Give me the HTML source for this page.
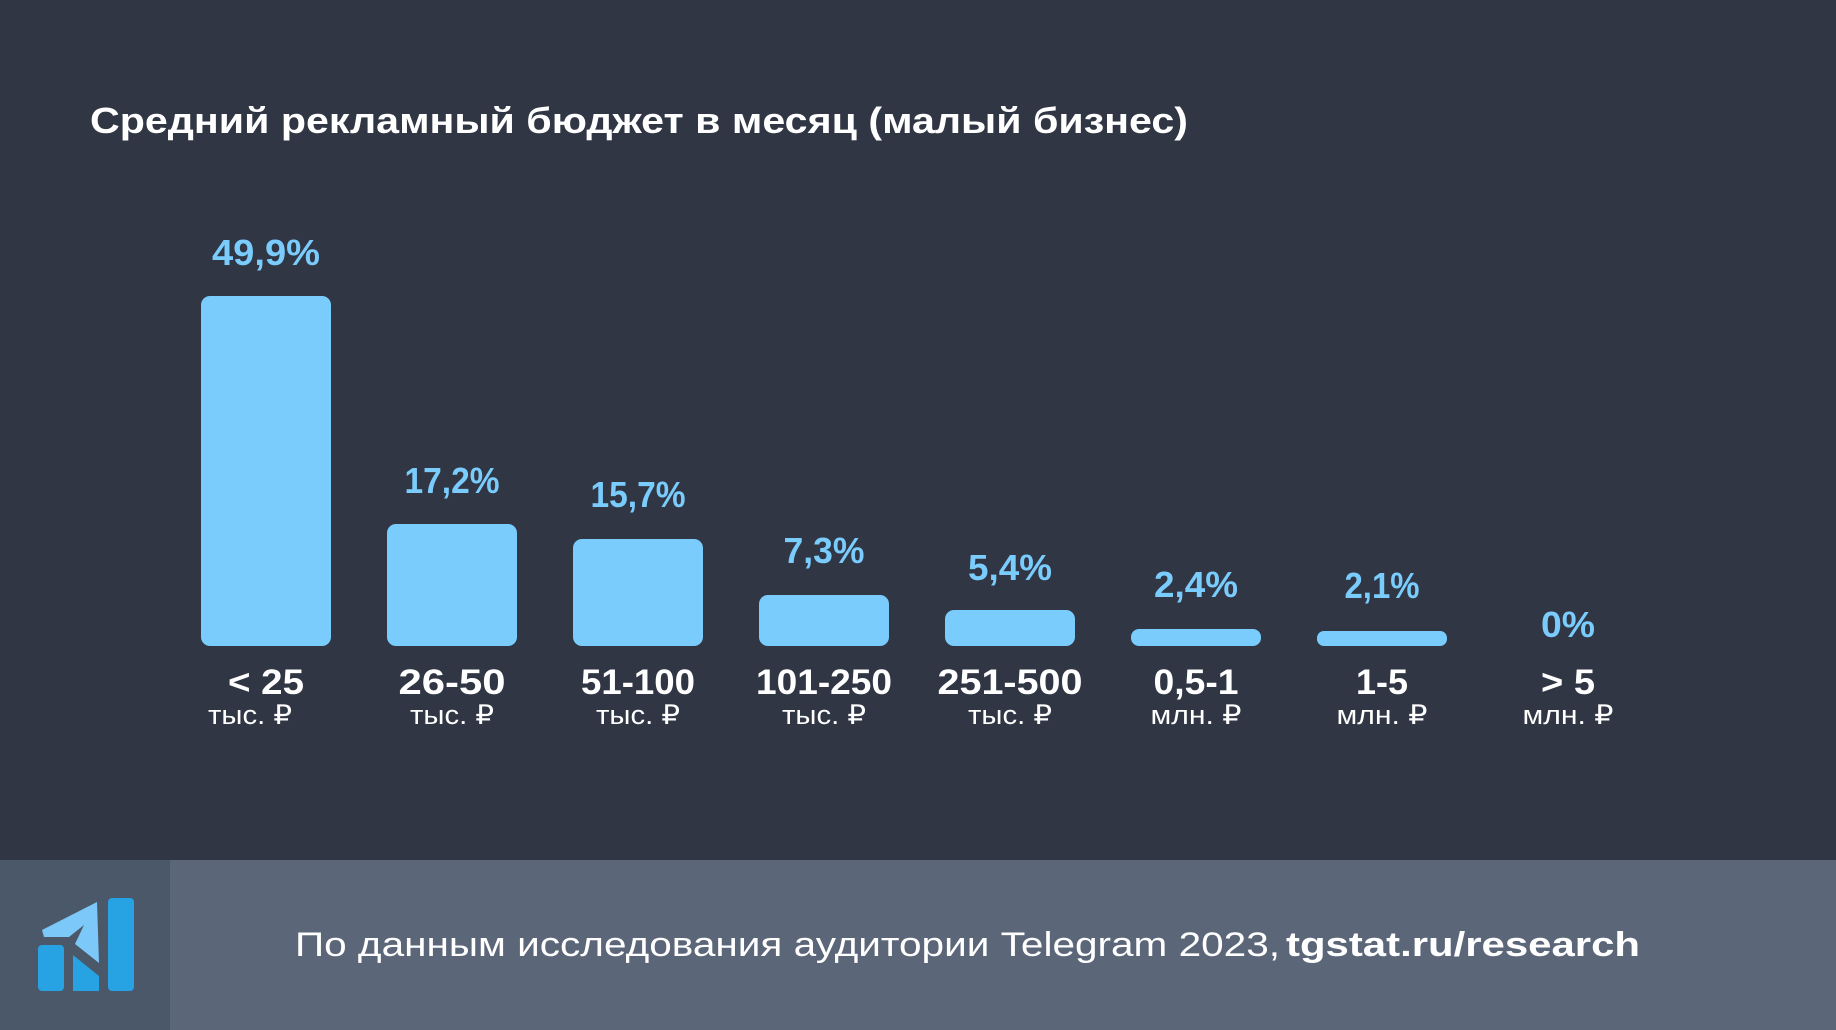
<!DOCTYPE html>
<html><head><meta charset="utf-8"><style>
html,body{margin:0;padding:0;background:#303644;}
svg{display:block}
</style></head><body>
<svg width="1836" height="1030" viewBox="0 0 1836 1030" xmlns="http://www.w3.org/2000/svg" font-family="'Liberation Sans', sans-serif">
<rect width="1836" height="1030" fill="#303644"/>
<text x="90" y="133" font-size="36" font-weight="bold" fill="#ffffff" textLength="1098" lengthAdjust="spacingAndGlyphs">Средний рекламный бюджет в месяц (малый бизнес)</text>
<g fill="#7accfd">
<rect x="201" y="296" width="130" height="350" rx="9"/>
<rect x="387" y="524" width="130" height="122" rx="9"/>
<rect x="573" y="539" width="130" height="107" rx="9"/>
<rect x="759" y="595" width="130" height="51" rx="9"/>
<rect x="945" y="610" width="130" height="36" rx="9"/>
<rect x="1131" y="629" width="130" height="17" rx="8"/>
<rect x="1317" y="631" width="130" height="15" rx="7"/>
</g>
<g fill="#7accfd" font-size="36" font-weight="bold" text-anchor="middle" lengthAdjust="spacingAndGlyphs">
<text x="266" y="265" textLength="108" lengthAdjust="spacingAndGlyphs">49,9%</text>
<text x="452" y="493" textLength="95" lengthAdjust="spacingAndGlyphs">17,2%</text>
<text x="638" y="507" textLength="95" lengthAdjust="spacingAndGlyphs">15,7%</text>
<text x="824" y="563" textLength="81" lengthAdjust="spacingAndGlyphs">7,3%</text>
<text x="1010" y="580" textLength="84" lengthAdjust="spacingAndGlyphs">5,4%</text>
<text x="1196" y="597" textLength="84" lengthAdjust="spacingAndGlyphs">2,4%</text>
<text x="1382" y="598" textLength="75" lengthAdjust="spacingAndGlyphs">2,1%</text>
<text x="1568" y="637" textLength="54" lengthAdjust="spacingAndGlyphs">0%</text>
</g>
<g fill="#ffffff" font-size="35" font-weight="bold" text-anchor="middle">
<text x="266" y="694" textLength="76" lengthAdjust="spacingAndGlyphs">&lt; 25</text>
<text x="452" y="694" textLength="107" lengthAdjust="spacingAndGlyphs">26-50</text>
<text x="638" y="694" textLength="114" lengthAdjust="spacingAndGlyphs">51-100</text>
<text x="824" y="694" textLength="136" lengthAdjust="spacingAndGlyphs">101-250</text>
<text x="1010" y="694" textLength="145" lengthAdjust="spacingAndGlyphs">251-500</text>
<text x="1196" y="694" textLength="85" lengthAdjust="spacingAndGlyphs">0,5-1</text>
<text x="1382" y="694" textLength="52" lengthAdjust="spacingAndGlyphs">1-5</text>
<text x="1568" y="694" textLength="54" lengthAdjust="spacingAndGlyphs">&gt; 5</text>
</g>
<g fill="#ffffff" font-size="27" text-anchor="middle">
<text x="250" y="724" textLength="84" lengthAdjust="spacingAndGlyphs">тыс. ₽</text>
<text x="452" y="724" textLength="84" lengthAdjust="spacingAndGlyphs">тыс. ₽</text>
<text x="638" y="724" textLength="84" lengthAdjust="spacingAndGlyphs">тыс. ₽</text>
<text x="824" y="724" textLength="84" lengthAdjust="spacingAndGlyphs">тыс. ₽</text>
<text x="1010" y="724" textLength="84" lengthAdjust="spacingAndGlyphs">тыс. ₽</text>
<text x="1196" y="724" textLength="91" lengthAdjust="spacingAndGlyphs">млн. ₽</text>
<text x="1382" y="724" textLength="91" lengthAdjust="spacingAndGlyphs">млн. ₽</text>
<text x="1568" y="724" textLength="91" lengthAdjust="spacingAndGlyphs">млн. ₽</text>
</g>
<rect x="0" y="860" width="1836" height="170" fill="#5c6679"/>
<rect x="0" y="860" width="170" height="170" fill="#4a5869"/>
<g fill="#27a2e3">
<rect x="38" y="945" width="26" height="46" rx="4"/>
<polygon points="73,955 99,976 99,991 73,991"/>
<rect x="108" y="898" width="26" height="93" rx="4"/>
</g>
<polygon points="42,930 97,902 99,963 75,944 84,925 69,937 44,937" fill="#7cc8f8"/>
<text x="295" y="956" font-size="34" fill="#ffffff" textLength="985" lengthAdjust="spacingAndGlyphs">По данным исследования аудитории Telegram 2023,</text>
<text x="1286" y="956" font-size="34" font-weight="bold" fill="#ffffff" textLength="354" lengthAdjust="spacingAndGlyphs">tgstat.ru/research</text>
</svg>
</body></html>
